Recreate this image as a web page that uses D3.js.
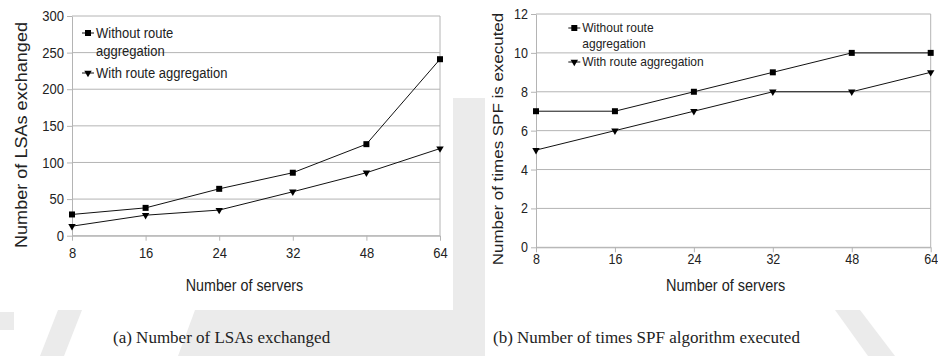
<!DOCTYPE html>
<html>
<head>
<meta charset="utf-8">
<script src="https://cdn.jsdelivr.net/npm/d3@7"></script>
<style>
  body { margin: 0; background: #fff; }
  text { font-family: "Liberation Sans", Arial, sans-serif; fill: #222; }
</style>
</head>
<body>
<div id="chart"></div>
<script>
// Size of the whole picture
var width = 938;
var height = 356;

// Chart data
var servers = ["8", "16", "24", "32", "48", "64"];
var lsaWithout = [29, 38, 64, 86, 125, 241];
var lsaWith = [13, 28, 35, 60, 86, 119];
var spfWithout = [7, 7, 8, 9, 10, 10];
var spfWith = [5, 6, 7, 8, 8, 9];
var lsaTicks = [0, 50, 100, 150, 200, 250, 300];
var spfTicks = [0, 2, 4, 6, 8, 10, 12];
var seriesNames = ["Without route aggregation", "With route aggregation"];

// text in the original is a little taller than it is wide
var stretch = 1.13;

var svg = d3.select("#chart").append("svg")
    .attr("width", width)
    .attr("height", height);

// faint watermark shapes behind the charts
var wm = svg.append("g").attr("fill", "#ebebeb");
wm.append("path").attr("d", "M453,98 L485,98 L485,356 L453,356 Z");
wm.append("path").attr("d", "M195,310 L453,310 L453,356 L178,356 Z");
wm.append("path").attr("d", "M58,310 L82,310 L64,356 L40,356 Z");
wm.append("path").attr("d", "M835,310 L860,310 L895,356 L868,356 Z");
wm.append("path").attr("d", "M0,312 L14,312 L14,330 L0,330 Z");
// white boxes of the two chart images
svg.append("rect").attr("x", 0).attr("y", 0).attr("width", 453).attr("height", 310).attr("fill", "#fff");
svg.append("rect").attr("x", 485).attr("y", 0).attr("width", 453).attr("height", 310).attr("fill", "#fff");

var squareSym = d3.symbol().type(d3.symbolSquare).size(36);
var triSym = d3.symbol().type(d3.symbolTriangle).size(24);

// stretch a text vertically about its own anchor
function tall(sel) {
  sel.attr("transform", function() {
    var t = d3.select(this);
    var x = +t.attr("x") || 0, y = +t.attr("y") || 0;
    return "translate(" + x + "," + y + ") scale(1," + stretch + ") translate(" + (-x) + "," + (-y) + ")";
  });
}

function drawPanel(p) {
  var g = svg.append("g");

  var x = d3.scalePoint().domain(servers).range([p.x0, p.x1]);
  var y = d3.scaleLinear().domain([0, p.yMax]).range([p.yBottom, p.yTop]);

  // horizontal grid lines
  g.selectAll(".grid").data(p.ticks).enter().append("line")
      .attr("x1", p.x0).attr("x2", p.x1)
      .attr("y1", function(d) { return y(d); })
      .attr("y2", function(d) { return y(d); })
      .attr("stroke", "#b4b4b4").attr("stroke-width", 1);

  // right border of plot
  g.append("line")
      .attr("x1", p.x1).attr("x2", p.x1)
      .attr("y1", p.yTop).attr("y2", p.yBottom)
      .attr("stroke", "#b4b4b4");

  var yAxis = g.append("g")
      .attr("transform", "translate(" + p.x0 + ",0)")
      .call(d3.axisLeft(y).tickValues(p.ticks).tickSize(5).tickSizeOuter(0).tickPadding(3));
  var xAxis = g.append("g")
      .attr("transform", "translate(0," + p.yBottom + ")")
      .call(d3.axisBottom(x).tickSize(5).tickSizeOuter(0).tickPadding(p.xPad));

  [yAxis, xAxis].forEach(function(a) {
    a.selectAll("path, line").attr("stroke", "#b4b4b4");
    a.selectAll("text")
        .style("font-family", "'Liberation Sans', Arial, sans-serif")
        .style("font-size", p.tickFont + "px")
        .attr("fill", "#222")
        .call(tall);
  });

  // axis titles
  g.append("text")
      .attr("x", p.xTitleX).attr("y", p.xTitleY)
      .attr("text-anchor", "middle")
      .style("font-size", p.titleFont + "px")
      .text("Number of servers")
      .call(tall);

  g.append("text")
      .attr("transform", "translate(" + p.yTitleX + "," + p.yTitleY + ") rotate(-90) scale(" + stretch + ",1)")
      .attr("text-anchor", "middle")
      .style("font-size", p.yTitleFont + "px")
      .text(p.yTitle);

  // lines and markers
  var line = d3.line()
      .x(function(d, i) { return x(servers[i]); })
      .y(function(d) { return y(d); });

  [p.without, p.with].forEach(function(vals, k) {
    g.append("path")
        .attr("d", line(vals))
        .attr("fill", "none")
        .attr("stroke", "#111")
        .attr("stroke-width", 1);

    g.selectAll(".m" + k).data(vals).enter().append("path")
        .attr("d", k == 0 ? squareSym : triSym)
        .attr("transform", function(d, i) {
          return "translate(" + x(servers[i]) + "," + y(d) + ")" + (k == 1 ? " rotate(180)" : "");
        })
        .attr("fill", "#000");
  });

  // legend
  var lg = g.append("g").attr("transform", "translate(" + p.legX + "," + p.legY + ")");
  var rows = [
    { sym: squareSym, rot: "", lines: ["Without route", "aggregation"], dy: 0 },
    { sym: triSym, rot: " rotate(180)", lines: [seriesNames[1]], dy: p.legRow2 }
  ];
  rows.forEach(function(r) {
    lg.append("line")
        .attr("x1", -6).attr("x2", 6)
        .attr("y1", r.dy).attr("y2", r.dy)
        .attr("stroke", "#111");
    lg.append("path")
        .attr("d", r.sym)
        .attr("transform", "translate(0," + r.dy + ")" + r.rot)
        .attr("fill", "#000");
    r.lines.forEach(function(t, j) {
      lg.append("text")
          .attr("x", 8)
          .attr("y", r.dy + j * p.legLine + p.legFont * 0.36)
          .style("font-size", p.legFont + "px")
          .text(t)
          .call(tall);
    });
  });
}

drawPanel({
  x0: 72, x1: 440, yTop: 16, yBottom: 235.7, yMax: 300, ticks: lsaTicks,
  without: lsaWithout, with: lsaWith,
  tickFont: 13, titleFont: 14.3, yTitleFont: 16, xPad: 7,
  xTitleX: 244.5, xTitleY: 291,
  yTitle: "Number of LSAs exchanged", yTitleX: 27, yTitleY: 135,
  legX: 88, legY: 33, legRow2: 40, legLine: 18, legFont: 13
});

drawPanel({
  x0: 536, x1: 930.7, yTop: 14, yBottom: 247.3, yMax: 12, ticks: spfTicks,
  without: spfWithout, with: spfWith,
  tickFont: 12.5, titleFont: 14.5, yTitleFont: 15, xPad: 2,
  xTitleX: 725.7, xTitleY: 291,
  yTitle: "Number of times SPF is executed", yTitleX: 503, yTitleY: 139,
  legX: 574.3, legY: 28, legRow2: 34, legLine: 16, legFont: 12
});

// sub-figure captions
svg.append("text")
    .attr("x", 113).attr("y", 343)
    .style("font-family", "'Liberation Serif', 'DejaVu Serif', serif")
    .style("font-size", "17px")
    .text("(a)  Number of LSAs exchanged");
svg.append("text")
    .attr("x", 493).attr("y", 343)
    .style("font-family", "'Liberation Serif', 'DejaVu Serif', serif")
    .style("font-size", "17px")
    .text("(b)  Number of times SPF algorithm executed");
</script>
</body>
</html>
